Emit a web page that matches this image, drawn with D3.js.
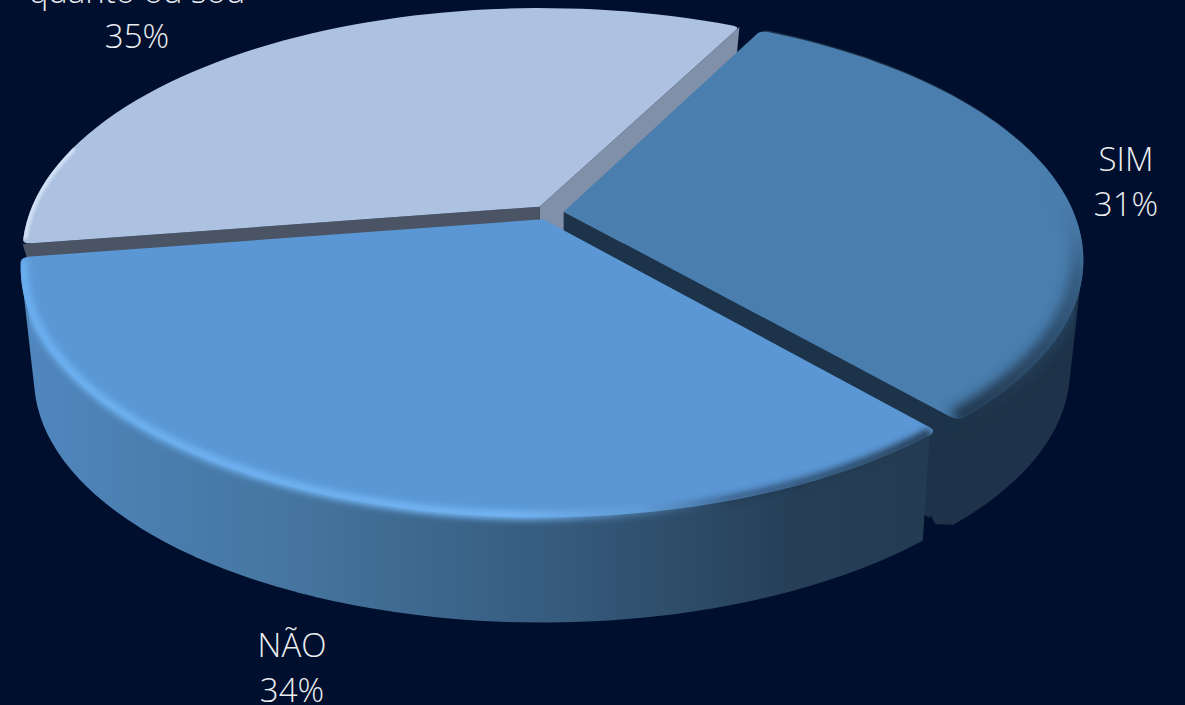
<!DOCTYPE html>
<html><head><meta charset="utf-8">
<script src="https://cdn.jsdelivr.net/npm/d3@7"></script>
<style>html,body{margin:0;padding:0;background:#000f2d;overflow:hidden}svg{display:block}text{font-family:"Open Sans",sans-serif;font-weight:300;fill:#eceef1;font-size:33px;text-anchor:middle}</style>
</head><body><svg id="c" width="1185" height="705"></svg>
<script>
const categories = ["SIM","NÃO","quanto ou sou"];
const values = [31,34,35];
const percentLabels = ["31%","34%","35%"];
const topColors = ["#4a7eae","#5b97d5","#adc2e1"];
const sideColors = ["#1e3349","#4f84b9","#8090a8"];
const labelAnchors = [[1126,171],[292,657],[137,3]];
const cx=548.5, cy=212.5, ax=510, ay=238.5, k=0.1905, explode=0.03, drop=112, shrink=0.975;
const startDeg=27.2;

const svg=d3.select("#c");
const defs=svg.append("defs");
const blur=(id,s)=>defs.append("filter").attr("id",id).attr("x","-20%").attr("y","-20%").attr("width","140%").attr("height","140%").append("feGaussianBlur").attr("stdDeviation",s);
blur("b3",3);blur("b5",6);blur("b1",1.5);

const sideGrad=defs.append("linearGradient").attr("id","noSide").attr("gradientUnits","userSpaceOnUse").attr("x1",20).attr("x2",930).attr("y1",0).attr("y2",0);
[[0,"#5087bf"],[0.3,"#45759f"],[0.6,"#355a7c"],[0.85,"#263f57"],[1,"#243c52"]].forEach(s=>sideGrad.append("stop").attr("offset",s[0]).attr("stop-color",s[1]));
const rimGrad=defs.append("linearGradient").attr("id","noRim").attr("gradientUnits","userSpaceOnUse").attr("x1",20).attr("x2",930).attr("y1",0).attr("y2",0);
[[0,"#6cb1f2",1],[0.55,"#74b6f4",1],[0.68,"#6aa6dd",0.4],[0.78,"#1e3349",0.5],[1,"#243c52",1]].forEach(s=>rimGrad.append("stop").attr("offset",s[0]).attr("stop-color",s[1]).attr("stop-opacity",s[2]));
const simRim=defs.append("linearGradient").attr("id","simRim").attr("gradientUnits","userSpaceOnUse").attr("x1",0).attr("x2",0).attr("y1",180).attr("y2",420);
[[0,"#4a7eae",0],[0.4,"#2c4e6e",0.75],[1,"#1e3349",1]].forEach(s=>simRim.append("stop").attr("offset",s[0]).attr("stop-color",s[1]).attr("stop-opacity",s[2]));

const slices=d3.pie().sort(null).value(d=>d).startAngle(startDeg*Math.PI/180).endAngle((startDeg+360)*Math.PI/180)(values);
const project=(u,v,low)=>{const w=1-k*v;const s=low?shrink:1;return [cx+s*ax*u/w, cy+s*ay*v/w+(low?drop:0)];};
const disc=(sl,r,a,low)=>{const m=(sl.startAngle+sl.endAngle)/2;const ou=explode*Math.sin(m),ov=-explode*Math.cos(m);
  return project(ou+r*Math.sin(a),ov-r*Math.cos(a),low);};
const arcPts=(sl,r,low,da=0)=>d3.range(0,61).map(i=>disc(sl,r,sl.startAngle+da+(sl.endAngle-sl.startAngle-2*da)*i/60,low));
const line=d3.line();
const apex=(sl,low)=>disc(sl,0,0,low);
const hullPath=p=>line(d3.polygonHull(p))+"Z";
const wall=(sl,a)=>{const o=disc(sl,1,a,false),b=disc(sl,0.96,a,true);return line([apex(sl,false),o,b,apex(sl,true)])+"Z";};
const topPath=(sl,dr=0.018,da=0.018)=>{
  const p=d3.path(),A=apex(sl,false),s0=disc(sl,1-dr,sl.startAngle,false),c0=disc(sl,1,sl.startAngle,false),
        e0=disc(sl,1-dr,sl.endAngle,false),c1=disc(sl,1,sl.endAngle,false),pts=arcPts(sl,1,false,da);
  p.moveTo(...A);p.lineTo(...s0);p.quadraticCurveTo(...c0,...pts[0]);
  pts.slice(1).forEach(q=>p.lineTo(...q));
  p.quadraticCurveTo(...c1,...e0);p.closePath();return p.toString();};
const sideHull=(sl,lowInset,extra=[])=>hullPath([...arcPts(sl,0.994,false,0.018),...arcPts(sl,0.995,true,lowInset),...extra]);
const clipOf=(id,sl,li,extra)=>{const c=defs.append("clipPath").attr("id",id);c.append("path").attr("d",topPath(sl));c.append("path").attr("d",sideHull(sl,li,extra));};

const L=slices[2],S=slices[0],N=slices[1];
const simCorner=[disc(S,0.975,S.endAngle,true)];
clipOf("cl",L,0.012);clipOf("cs",S,0.02,simCorner);clipOf("cn",N,0.012);
// Light slice (back)
svg.append("path").attr("d",wall(L,L.endAngle)).attr("fill",sideColors[2]);
svg.append("path").attr("d",wall(L,L.startAngle)).attr("fill","#4a5464");
svg.append("path").attr("d",topPath(L)).attr("fill",topColors[2]);
svg.append("g").attr("clip-path","url(#cl)").append("path").attr("d",line(arcPts(L,0.997,false,0.02).slice(0,12))).attr("fill","none").attr("stroke","#dbe8fa").attr("stroke-width",5).attr("filter","url(#b1)").attr("opacity",.85);
// SIM
svg.append("path").attr("d",sideHull(S,0.02,simCorner)).attr("fill",sideColors[0]).attr("stroke",sideColors[0]).attr("stroke-width",5).attr("stroke-linejoin","round");
svg.append("path").attr("d",wall(S,S.endAngle)).attr("fill","#1c3349");
svg.append("path").attr("d",topPath(S)).attr("fill",topColors[0]);
svg.append("g").attr("clip-path","url(#cs)").append("path").attr("d",line(arcPts(S,0.992,false))).attr("fill","none").attr("stroke","url(#simRim)").attr("stroke-width",18).attr("filter","url(#b5)");
// NÃO
svg.append("path").attr("d",sideHull(N,0.012)).attr("fill","url(#noSide)").attr("stroke","url(#noSide)").attr("stroke-width",5).attr("stroke-linejoin","round");
svg.append("path").attr("d",topPath(N)).attr("fill",topColors[1]);
svg.append("g").attr("clip-path","url(#cn)").append("path").attr("d",line(arcPts(N,0.995,false,0.01))).attr("fill","none").attr("stroke","url(#noRim)").attr("stroke-width",9).attr("filter","url(#b3)");
// labels
categories.forEach((c,i)=>{const t=svg.append("text").attr("x",labelAnchors[i][0]).attr("y",labelAnchors[i][1]);
 t.append("tspan").attr("x",labelAnchors[i][0]).text(c);
 t.append("tspan").attr("x",labelAnchors[i][0]).attr("dy",45).text(percentLabels[i]);});
</script></body></html>
